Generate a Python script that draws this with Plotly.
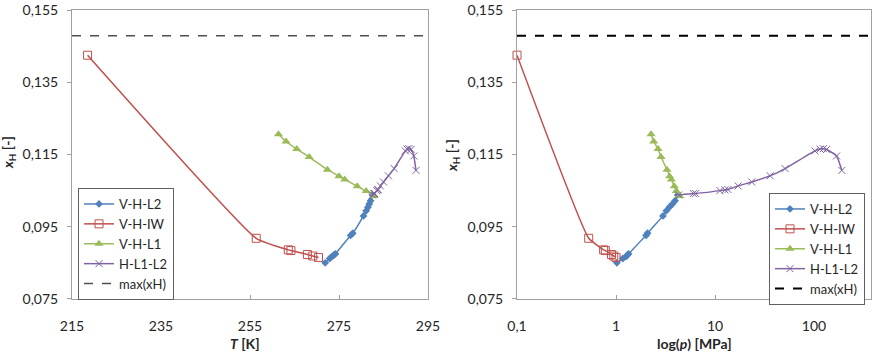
import math
import plotly.graph_objects as go

# ---------------- data ----------------
# V-H-L2
T_L2 = [271.9, 272.9, 273.4, 273.8, 274.2, 277.6, 278.1, 280.5, 281.1, 281.5, 281.8, 282.1, 282.5]
P_L2 = [1.02, 1.17, 1.26, 1.30, 1.34, 2.01, 2.08, 2.98, 3.22, 3.45, 3.71, 3.95, 4.20]
X_L2 = [0.0850, 0.0862, 0.0867, 0.0871, 0.0875, 0.0926, 0.0932, 0.0980, 0.0994, 0.1004, 0.1013, 0.1022, 0.1038]
# V-H-IW
T_IW = [218.5, 256.4, 263.6, 264.2, 267.9, 269.1, 270.4]
P_IW = [0.10, 0.53, 0.75, 0.78, 0.90, 0.95, 1.00]
X_IW = [0.1425, 0.0918, 0.0886, 0.0884, 0.0873, 0.0869, 0.0865]
# V-H-L1
T_L1 = [261.4, 263.1, 265.5, 268.3, 272.4, 275.0, 276.3, 279.1, 281.1, 282.9]
P_L1 = [2.26, 2.40, 2.66, 2.85, 3.27, 3.48, 3.62, 3.88, 4.07, 4.39]
X_L1 = [0.1206, 0.1186, 0.1165, 0.1143, 0.1108, 0.1090, 0.1081, 0.1062, 0.1049, 0.1035]
# H-L1-L2
T_L1L2 = [282.5, 282.8, 283.0, 283.5, 283.7, 283.8, 284.3, 285.0, 286.1, 287.4, 289.9, 290.3, 290.7, 291.2, 291.8, 292.3]
P_L1L2 = [4.3, 6.04, 6.38, 11.2, 12.6, 13.5, 17.1, 23.5, 36, 51, 102, 115, 124, 134, 169, 191]
X_L1L2 = [0.1038, 0.1042, 0.1042, 0.1050, 0.1052, 0.1053, 0.1063, 0.1074, 0.1091, 0.1111, 0.1160, 0.1165, 0.1166, 0.1164, 0.1146, 0.1106]
# max(xH)
X_MAX = 0.1479

T_RANGE = [215, 295]
P_RANGE = [0.1, 376]
Y_RANGE = [0.07499, 0.15501]
Y_TICKS = [0.075, 0.095, 0.115, 0.135, 0.155]
T_TICKS = [215, 235, 255, 275, 295]
P_TICKS = [0.1, 1, 10, 100]
P_TICKTEXT = ["0,1", "1", "10", "100"]

BLUE = "#4F81BD"
RED = "#C0504D"
GREEN = "#9BBB59"
PURPLE = "#8064A2"
FONT = "Lato"
TXT = "#262626"

fig = go.Figure()

def add_series(xs, ys, name, color, symbol, size, xa, ya, legend, mline=None):
    marker = dict(symbol=symbol, size=size, color=color)
    if mline:
        marker["line"] = mline
    fig.add_trace(go.Scatter(
        x=xs, y=ys, name=name, mode="lines+markers",
        line=dict(color=color, width=1.5, shape="spline", smoothing=0.4),
        marker=marker, xaxis=xa, yaxis=ya, legend=legend, cliponaxis=False))

for (xa, ya, leg, xL2, xIW, xL1, xL1L2, rng, dash_col, dash_w) in [
    ("x", "y", "legend", T_L2, T_IW, T_L1, T_L1L2, T_RANGE, "#505050", 1.5),
    ("x2", "y2", "legend2", P_L2, P_IW, P_L1, P_L1L2, P_RANGE, "#000000", 2),
]:
    add_series(xL2, X_L2, "V-H-L2", BLUE, "diamond", 6, xa, ya, leg)
    add_series(xIW, X_IW, "V-H-IW", RED, "square-open", 8, xa, ya, leg, dict(color=RED, width=1))
    add_series(xL1, X_L1, "V-H-L1", GREEN, "triangle-up", 8, xa, ya, leg)
    add_series(xL1L2, X_L1L2, "H-L1-L2", PURPLE, "x-thin-open", 7, xa, ya, leg, dict(color=PURPLE, width=1))
    fig.add_trace(go.Scatter(
        x=rng, y=[X_MAX, X_MAX], name="max(xH)", mode="lines",
        line=dict(color=dash_col, width=dash_w, dash="dash"),
        xaxis=xa, yaxis=ya, legend=leg))

W, H = 877, 354
def px(x):
    return x / W
def py(y):
    return 1 - y / H

common = dict(showline=True, linecolor="#a0a0a0", linewidth=1, mirror=True,
              showgrid=False, zeroline=False, ticklen=4, automargin=False,
              ticklabeloverflow="allow",
              tickcolor="#a0a0a0", tickfont=dict(family=FONT, size=14, color=TXT))
xcommon = dict(ticks="inside", ticklabelstandoff=14, **common)
ycommon = dict(ticks="outside", ticklabelstandoff=6, range=Y_RANGE, tickvals=Y_TICKS,
               tickformat=".3f", domain=[py(299), py(10)], **common)

leg_common = dict(xanchor="left", yanchor="top", bordercolor="#606060", borderwidth=1,
                  bgcolor="white", font=dict(family=FONT, size=13, color=TXT), tracegroupgap=0)

fig.update_layout(
    width=W, height=H, margin=dict(l=0, r=0, t=0, b=0, autoexpand=False),
    paper_bgcolor="white", plot_bgcolor="white",
    separators=", ",
    font=dict(family=FONT, size=14, color=TXT),
    xaxis=dict(domain=[px(72), px(428)], range=T_RANGE, tickvals=T_TICKS, anchor="y", **xcommon),
    yaxis=dict(anchor="x", **ycommon),
    xaxis2=dict(domain=[px(517), px(871)], type="log",
                range=[math.log10(P_RANGE[0]), math.log10(P_RANGE[1])],
                tickvals=P_TICKS, ticktext=P_TICKTEXT, anchor="y2", **xcommon),
    yaxis2=dict(anchor="x2", **ycommon),
    legend=dict(x=px(78), y=py(188), **leg_common),
    legend2=dict(x=px(769), y=py(193), **leg_common),
    showlegend=True,
)

ann_font = dict(family=FONT, size=14, color=TXT)
common_ann = dict(xref="paper", yref="paper", showarrow=False, font=ann_font,
                  xanchor="center", yanchor="middle")
fig.add_annotation(text="<b><i>x</i><sub>H</sub> [-]</b>", x=px(9), y=py(153), textangle=-90, **common_ann)
fig.add_annotation(text="<b><i>x</i><sub>H</sub> [-]</b>", x=px(452), y=py(155), textangle=-90, **common_ann)
fig.add_annotation(text="<b><i>T</i> [K]</b>", x=px(245), y=py(343), **common_ann)
fig.add_annotation(text="<b>log(<i>p</i>) [MPa]</b>", x=px(694), y=py(343), **common_ann)

fig.write_html("out.html")
